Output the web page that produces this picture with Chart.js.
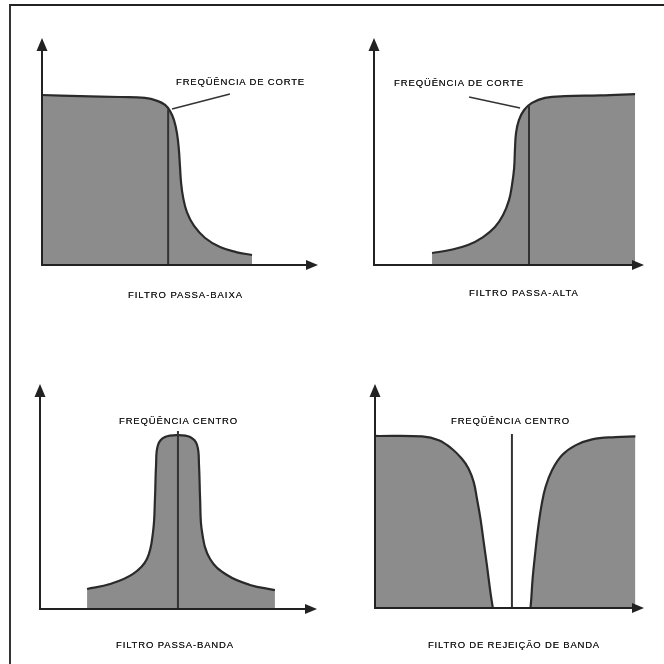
<!DOCTYPE html>
<html>
<head>
<meta charset="utf-8">
<script src="https://cdn.jsdelivr.net/npm/chart.js@4"></script>
<style>
  html, body { margin: 0; padding: 0; background: #fff; }
  #page { position: relative; width: 664px; height: 664px; overflow: hidden; background: #fff; }
  #frame { position: absolute; left: 9px; top: 4px; right: -4px; bottom: -4px; border-top: 2px solid #222; border-left: 2px solid #333; }
  canvas { position: absolute; }
  .lbl { position: absolute; font: 9.5px "Liberation Sans", Arial, sans-serif; color: #1a1a1a; white-space: nowrap; line-height: 10px; text-shadow: 0 0 0.5px #333; }
</style>
</head>
<body>
<div id="page">
  <div id="frame"></div>
  <canvas id="c1" width="332" height="332" style="left:0;top:0"></canvas>
  <canvas id="c2" width="332" height="332" style="left:332px;top:0"></canvas>
  <canvas id="c3" width="332" height="332" style="left:0;top:332px"></canvas>
  <canvas id="c4" width="332" height="332" style="left:332px;top:332px"></canvas>
</div>
<script>
// all values in % of the axis length (0 = origin, 100 = arrow tip)

// filtro passa-baixa
const lowX = [0, 13.8, 28.3, 37.3, 42, 44.6, 46.4, 47.8, 48.9, 49.6, 50, 50.4, 51.1, 52.5, 55.1, 59.1, 64.5, 70.3, 76.1];
const lowY = [74.9, 74.4, 74, 73.6, 72.2, 70.5, 67.8, 63.9, 58.1, 50.7, 43.2, 36.1, 30, 23.3, 17.2, 11.9, 7.9, 5.7, 4.4];
const lowCutX = [45.7, 45.7];
const lowCutY = [0, 68.5];
const lowLeadX = [47.1, 68.1];
const lowLeadY = [68.7, 75.3];

// filtro passa-alta
const highX = [21.5, 28.1, 34.8, 40.4, 44.8, 47.8, 50, 51.1, 51.9, 52.2, 52.6, 53.7, 55.6, 58.5, 63.3, 70.7, 83.7, 96.7];
const highY = [5.3, 6.6, 8.8, 12.3, 16.7, 22, 28.6, 35.2, 42.7, 50.7, 58.1, 63.9, 68.3, 71.4, 73.6, 74.4, 74.7, 75.3];
const highCutX = [57.4, 57.4];
const highCutY = [0, 70.5];
const highLeadX = [35.2, 54.1];
const highLeadY = [74, 69.2];

// filtro passa-banda
const bandX = [17, 25.3, 33.6, 38.6, 40.8, 41.5, 41.9, 42.6, 45.1, 49.8, 54.2, 56.7, 57.4, 57.8, 58.5, 61.4, 67.5, 75.8, 84.8];
const bandY = [8.9, 11.1, 15.6, 22.2, 34.2, 48.9, 64, 72.9, 76.4, 77.3, 76.4, 72.9, 64, 48.9, 34.2, 22.2, 15.1, 10.7, 8.4];
const bandCenterX = [49.8, 49.8];
const bandCenterY = [0, 79.1];

// filtro de rejeição de banda
const rejLeftX = [0, 17.5, 23.7, 28.6, 32.3, 34.8, 36.7, 37.9, 39.2, 40.4, 41.6, 42.9, 43.8];
const rejLeftY = [76.8, 76.6, 74.9, 71.1, 66.6, 62.2, 56.2, 48.8, 39.9, 29.5, 19.1, 7.1, 0];
const rejRightX = [57.8, 58.1, 58.6, 59.6, 60.6, 61.9, 63.4, 65.8, 69.5, 74.5, 80.7, 89.4, 96.8];
const rejRightY = [0, 4.2, 13.1, 25, 35.4, 45.8, 54, 61.5, 68.2, 72.6, 75.3, 76.3, 76.6];
const rejCenterX = [50.9, 50.9];
const rejCenterY = [0, 77.7];

// text: [text, left, centre y, width]
const labels = [
  ['FREQÜÊNCIA DE CORTE', 176, 82, 129],
  ['FILTRO PASSA-BAIXA', 128, 295, 115],
  ['FREQÜÊNCIA DE CORTE', 394, 83, 130],
  ['FILTRO PASSA-ALTA', 469, 293, 110],
  ['FREQÜÊNCIA CENTRO', 119, 421, 119],
  ['FILTRO PASSA-BANDA', 116, 645, 118],
  ['FREQÜÊNCIA CENTRO', 451, 421, 119],
  ['FILTRO DE REJEIÇÃO DE BANDA', 428, 645, 172],
];

const pts = (xs, ys) => xs.map((x, i) => ({ x, y: ys[i] }));

function curve(xs, ys) {
  return {
    data: pts(xs, ys),
    borderColor: '#2a2a2a',
    borderWidth: 2.2,
    backgroundColor: '#8c8c8c',
    fill: 'origin',
    tension: 0.4,
    pointRadius: 0,
    order: 2,
  };
}

function rule(xs, ys, w) {
  return {
    data: pts(xs, ys),
    borderColor: '#333',
    borderWidth: w,
    fill: false,
    pointRadius: 0,
    order: 1,
  };
}

// axes with arrow heads
const arrowAxes = {
  id: 'arrowAxes',
  afterDraw(chart) {
    const { ctx, chartArea: a } = chart;
    ctx.save();
    ctx.strokeStyle = '#222';
    ctx.fillStyle = '#222';
    ctx.lineWidth = 2;
    ctx.beginPath();
    ctx.moveTo(a.left, a.top + 10);
    ctx.lineTo(a.left, a.bottom);
    ctx.lineTo(a.right - 8, a.bottom);
    ctx.stroke();
    ctx.beginPath();
    ctx.moveTo(a.left, a.top);
    ctx.lineTo(a.left - 5.5, a.top + 13);
    ctx.lineTo(a.left + 5.5, a.top + 13);
    ctx.closePath();
    ctx.fill();
    ctx.beginPath();
    ctx.moveTo(a.right, a.bottom);
    ctx.lineTo(a.right - 12, a.bottom - 5);
    ctx.lineTo(a.right - 12, a.bottom + 5);
    ctx.closePath();
    ctx.fill();
    ctx.restore();
  },
};

function panel(id, padding, datasets) {
  return new Chart(document.getElementById(id), {
    type: 'line',
    data: { datasets },
    options: {
      responsive: false,
      animation: false,
      devicePixelRatio: 1,
      layout: { padding },
      scales: {
        x: { type: 'linear', min: 0, max: 100, display: false },
        y: { min: 0, max: 100, display: false },
      },
      plugins: { legend: { display: false }, tooltip: { enabled: false } },
    },
    plugins: [arrowAxes],
  });
}

panel('c1', { left: 42, right: 14, top: 38, bottom: 67 }, [
  rule(lowCutX, lowCutY, 2),
  rule(lowLeadX, lowLeadY, 1.5),
  curve(lowX, lowY),
]);
panel('c2', { left: 42, right: 20, top: 38, bottom: 67 }, [
  rule(highCutX, highCutY, 2),
  rule(highLeadX, highLeadY, 1.5),
  curve(highX, highY),
]);
panel('c3', { left: 40, right: 15, top: 52, bottom: 55 }, [
  rule(bandCenterX, bandCenterY, 2),
  curve(bandX, bandY),
]);
panel('c4', { left: 43, right: 20, top: 52, bottom: 56 }, [
  rule(rejCenterX, rejCenterY, 2),
  curve(rejLeftX, rejLeftY),
  curve(rejRightX, rejRightY),
]);

const page = document.getElementById('page');
labels.forEach(([text, left, cy, width]) => {
  const el = document.createElement('div');
  el.className = 'lbl';
  el.textContent = text;
  el.style.left = left + 'px';
  el.style.top = (cy - 5) + 'px';
  page.appendChild(el);
  const w = el.getBoundingClientRect().width;
  el.style.letterSpacing = ((width - w) / text.length) + 'px';
});
</script>
</body>
</html>
